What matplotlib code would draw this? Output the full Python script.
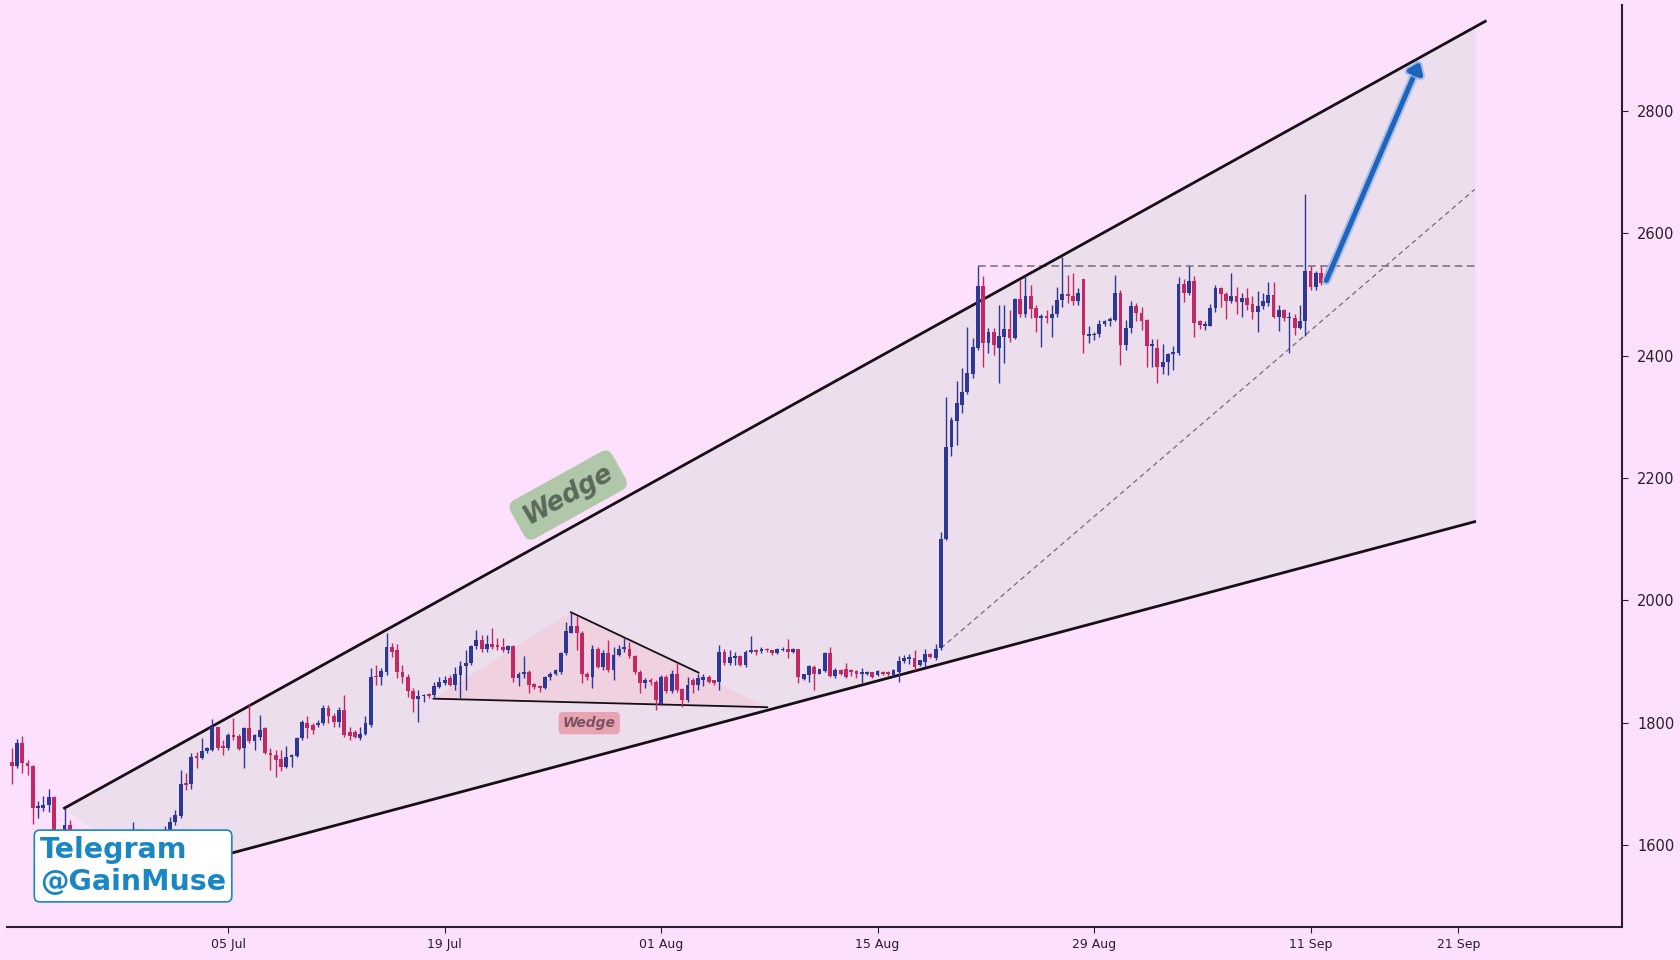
import numpy as np
import matplotlib
matplotlib.use("Agg")
import matplotlib.pyplot as plt
import matplotlib.patheffects as pe

# 8h candles (candles 9-31 sit behind the Telegram badge)
opens = [1735, 1729, 1766, 1733, 1729, 1660, 1660, 1665, 1678, 1608,
         1596, 1632, 1606, 1588, 1594, 1580, 1568, 1585, 1596, 1590,
         1576, 1592, 1606, 1612, 1622, 1604, 1598, 1582, 1594, 1608,
         1618, 1638, 1647, 1701, 1700, 1745, 1742, 1753, 1755, 1792,
         1761, 1758, 1780, 1778, 1758, 1791, 1769, 1777, 1791, 1750,
         1747, 1740, 1728, 1744, 1745, 1774, 1800, 1796, 1796, 1799,
         1823, 1811, 1801, 1820, 1785, 1785, 1774, 1782, 1796, 1876,
         1875, 1883, 1923, 1919, 1883, 1875, 1852, 1838, 1843, 1846,
         1845, 1858, 1865, 1872, 1861, 1878, 1892, 1897, 1925, 1935,
         1920, 1928, 1927, 1924, 1919, 1925, 1872, 1879, 1883, 1863,
         1860, 1856, 1875, 1880, 1883, 1913, 1947, 1958, 1946, 1880,
         1875, 1921, 1890, 1913, 1886, 1910, 1921, 1921, 1908, 1883,
         1864, 1870, 1867, 1831, 1875, 1851, 1880, 1855, 1837, 1869,
         1861, 1869, 1875, 1869, 1867, 1916, 1897, 1905, 1909, 1894,
         1916, 1918, 1917, 1921, 1918, 1914, 1919, 1920, 1916, 1920,
         1871, 1878, 1891, 1880, 1885, 1914, 1876, 1886, 1887, 1886,
         1885, 1879, 1879, 1882, 1878, 1883, 1883, 1878, 1883, 1900,
         1904, 1905, 1894, 1899, 1912, 1905, 1922, 2100, 2250, 2294,
         2320, 2340, 2370, 2412, 2514, 2421, 2438, 2412, 2431, 2443,
         2429, 2492, 2468, 2498, 2478, 2461, 2465, 2461, 2469, 2491,
         2501, 2498, 2489, 2525, 2433, 2434, 2435, 2452, 2456, 2459,
         2503, 2418, 2445, 2481, 2470, 2458, 2416, 2412, 2381, 2390,
         2403, 2404, 2517, 2503, 2523, 2456, 2449, 2449, 2478, 2510,
         2501, 2489, 2497, 2488, 2494, 2484, 2472, 2481, 2487, 2500,
         2464, 2475, 2461, 2461, 2445, 2456, 2538, 2512, 2535]
highs = [1758, 1773, 1778, 1738, 1731, 1672, 1679, 1692, 1680, 1618,
         1660, 1640, 1614, 1600, 1605, 1592, 1590, 1600, 1608, 1602,
         1596, 1612, 1620, 1638, 1626, 1614, 1606, 1600, 1612, 1630,
         1646, 1657, 1723, 1717, 1750, 1752, 1774, 1760, 1805, 1793,
         1771, 1783, 1807, 1782, 1793, 1831, 1782, 1812, 1792, 1758,
         1755, 1755, 1761, 1749, 1777, 1804, 1810, 1800, 1804, 1828,
         1829, 1815, 1826, 1845, 1793, 1788, 1793, 1810, 1889, 1894,
         1889, 1946, 1930, 1929, 1894, 1880, 1856, 1853, 1846, 1849,
         1867, 1875, 1876, 1878, 1891, 1900, 1919, 1927, 1951, 1943,
         1943, 1954, 1938, 1938, 1927, 1927, 1883, 1908, 1886, 1865,
         1861, 1876, 1883, 1887, 1916, 1965, 1981, 1974, 1949, 1883,
         1927, 1924, 1919, 1935, 1924, 1927, 1938, 1932, 1910, 1886,
         1872, 1872, 1870, 1878, 1878, 1886, 1897, 1857, 1875, 1872,
         1880, 1879, 1878, 1870, 1927, 1921, 1919, 1916, 1910, 1919,
         1942, 1921, 1924, 1922, 1919, 1922, 1923, 1936, 1922, 1921,
         1880, 1894, 1894, 1888, 1916, 1924, 1889, 1887, 1898, 1887,
         1886, 1889, 1884, 1883, 1886, 1884, 1884, 1887, 1908, 1911,
         1912, 1919, 1903, 1921, 1913, 1928, 2112, 2333, 2300, 2358,
         2380, 2447, 2429, 2547, 2530, 2445, 2445, 2483, 2483, 2475,
         2494, 2524, 2530, 2516, 2483, 2469, 2475, 2483, 2513, 2561,
         2532, 2535, 2510, 2525, 2448, 2438, 2459, 2459, 2463, 2532,
         2507, 2458, 2490, 2486, 2479, 2460, 2427, 2428, 2419, 2405,
         2416, 2529, 2525, 2546, 2531, 2459, 2456, 2485, 2516, 2513,
         2505, 2535, 2513, 2503, 2510, 2498, 2506, 2503, 2521, 2521,
         2483, 2476, 2472, 2468, 2483, 2665, 2546, 2538, 2546]
lows = [1700, 1725, 1717, 1714, 1634, 1643, 1656, 1654, 1598, 1585,
        1590, 1600, 1580, 1570, 1575, 1560, 1562, 1578, 1584, 1570,
        1568, 1586, 1596, 1605, 1598, 1590, 1575, 1570, 1588, 1600,
        1610, 1632, 1644, 1690, 1692, 1725, 1741, 1750, 1753, 1755,
        1747, 1755, 1771, 1755, 1726, 1767, 1755, 1772, 1748, 1722,
        1711, 1720, 1726, 1728, 1744, 1771, 1774, 1782, 1792, 1796,
        1799, 1793, 1793, 1777, 1771, 1774, 1771, 1780, 1793, 1861,
        1861, 1878, 1907, 1872, 1864, 1842, 1818, 1801, 1834, 1840,
        1842, 1856, 1862, 1859, 1853, 1840, 1853, 1894, 1921, 1916,
        1916, 1921, 1919, 1916, 1913, 1867, 1859, 1872, 1848, 1854,
        1850, 1854, 1870, 1878, 1880, 1910, 1946, 1919, 1864, 1870,
        1856, 1889, 1886, 1883, 1870, 1908, 1916, 1905, 1880, 1848,
        1856, 1862, 1820, 1829, 1848, 1848, 1850, 1826, 1834, 1848,
        1853, 1859, 1864, 1861, 1853, 1894, 1894, 1894, 1892, 1891,
        1913, 1910, 1913, 1915, 1911, 1912, 1917, 1905, 1914, 1864,
        1870, 1867, 1853, 1879, 1883, 1875, 1872, 1877, 1872, 1876,
        1872, 1864, 1878, 1873, 1876, 1878, 1876, 1875, 1867, 1897,
        1896, 1886, 1892, 1891, 1905, 1902, 1918, 2098, 2236, 2254,
        2306, 2338, 2363, 2410, 2382, 2404, 2401, 2355, 2388, 2423,
        2427, 2464, 2463, 2461, 2438, 2415, 2454, 2430, 2464, 2480,
        2486, 2483, 2483, 2404, 2420, 2426, 2431, 2449, 2449, 2456,
        2385, 2410, 2437, 2456, 2442, 2382, 2382, 2355, 2370, 2369,
        2377, 2401, 2488, 2499, 2430, 2444, 2442, 2448, 2472, 2480,
        2460, 2487, 2469, 2464, 2475, 2460, 2439, 2476, 2481, 2462,
        2441, 2456, 2404, 2434, 2443, 2432, 2507, 2508, 2516]
closes = [1729, 1766, 1733, 1729, 1660, 1663, 1665, 1678, 1608, 1596,
          1632, 1606, 1588, 1594, 1580, 1568, 1585, 1596, 1590, 1576,
          1592, 1606, 1612, 1622, 1604, 1598, 1582, 1594, 1608, 1618,
          1638, 1649, 1699, 1697, 1743, 1742, 1753, 1758, 1792, 1758,
          1758, 1780, 1777, 1756, 1791, 1769, 1779, 1788, 1750, 1747,
          1739, 1728, 1744, 1747, 1774, 1801, 1791, 1788, 1799, 1823,
          1810, 1801, 1820, 1780, 1778, 1777, 1782, 1799, 1875, 1874,
          1885, 1924, 1916, 1883, 1874, 1851, 1838, 1843, 1845, 1843,
          1859, 1866, 1870, 1861, 1879, 1892, 1897, 1925, 1935, 1921,
          1929, 1924, 1923, 1919, 1925, 1872, 1879, 1883, 1861, 1858,
          1856, 1874, 1880, 1886, 1913, 1949, 1958, 1946, 1880, 1874,
          1921, 1890, 1913, 1886, 1910, 1921, 1924, 1908, 1883, 1864,
          1870, 1867, 1836, 1875, 1851, 1880, 1853, 1837, 1861, 1861,
          1872, 1875, 1867, 1865, 1916, 1897, 1907, 1909, 1894, 1916,
          1918, 1916, 1921, 1918, 1913, 1920, 1921, 1916, 1920, 1875,
          1879, 1893, 1880, 1887, 1914, 1876, 1886, 1879, 1875, 1882,
          1880, 1882, 1882, 1875, 1885, 1880, 1879, 1886, 1900, 1905,
          1907, 1891, 1902, 1912, 1907, 1921, 2100, 2250, 2295, 2322,
          2341, 2371, 2414, 2514, 2421, 2438, 2418, 2432, 2443, 2429,
          2492, 2468, 2498, 2476, 2461, 2465, 2461, 2469, 2491, 2501,
          2497, 2489, 2503, 2434, 2436, 2435, 2452, 2457, 2460, 2503,
          2418, 2445, 2481, 2470, 2456, 2416, 2419, 2382, 2390, 2403,
          2406, 2517, 2503, 2523, 2454, 2450, 2452, 2478, 2510, 2501,
          2489, 2497, 2488, 2494, 2483, 2472, 2481, 2489, 2500, 2464,
          2475, 2461, 2464, 2445, 2456, 2538, 2512, 2535, 2519]

tick_pos = [41, 82, 123, 164, 205, 246, 274]
tick_labels = ["05 Jul", "19 Jul", "01 Aug", "15 Aug", "29 Aug", "11 Sep", "21 Sep"]

# drawn objects: (candle index, price)
wedge_upper = [(10, 1660), (279.1, 2947)]
wedge_lower = [(26.7, 1552), (277.1, 2128.5)]
small_wedge = [(79.9, 1839), (105.9, 1980.4), (143.1, 1825)]
small_wedge_top = [(105.9, 1980.4), (130.1, 1881.6)]
resistance = [(183, 2547), (277.1, 2547)]
support = [(176, 1921.5), (277.1, 2672)]
target_arrow = [(249, 2523), (266.7, 2880.6)]

BG = "#fde0fc"
UP = "#2d3796"
DOWN = "#c42864"

fig = plt.figure(figsize=(16.8, 9.6), dpi=100)
fig.patch.set_facecolor(BG)
ax = fig.add_axes([6.7 / 1680, 1 - 927 / 960, 1615.3 / 1680, 921.6 / 960])
ax.set_facecolor(BG)

o = np.array(opens, float)
h = np.array(highs, float)
l = np.array(lows, float)
c = np.array(closes, float)
x = np.arange(len(c))
up = c >= o
col = np.where(up, UP, DOWN)

# big rising wedge area
(ux0, uy0), (ux1, uy1) = wedge_upper
(lx0, ly0), (lx1, ly1) = wedge_lower
u_at = lambda xx: uy0 + (xx - ux0) * (uy1 - uy0) / (ux1 - ux0)
ax.fill([ux0, lx1, lx1, lx0], [uy0, u_at(lx1), ly1, ly0], color="#ecdeec", zorder=1)
ax.plot([ux0, ux1], [uy0, uy1], color="#161016", lw=2, zorder=4)
ax.plot([lx0, lx1], [ly0, ly1], color="#161016", lw=2, zorder=4)

# small wedge inside
sx, sy = zip(*small_wedge)
ax.fill(sx, sy, color="#f7b3c6", alpha=0.3, lw=0, zorder=1.5)
ax.plot([small_wedge[0][0], small_wedge[2][0]], [small_wedge[0][1], small_wedge[2][1]],
        color="#161016", lw=1.3, zorder=4)
tx, ty = zip(*small_wedge_top)
ax.plot(tx, ty, color="#161016", lw=1.3, zorder=4)

# dashed level + rising support
rx, ry = zip(*resistance)
ax.plot(rx, ry, color="#7a6a78", lw=1.1, ls=(0, (5, 3)), zorder=3)
spx, spy = zip(*support)
ax.plot(spx, spy, color="#7a6a78", lw=0.9, ls=(0, (4, 3)), zorder=3)

# candles
ax.vlines(x, l, h, colors=col, lw=1.0, zorder=5)
body = np.maximum(np.abs(c - o), 1.8)
ax.bar(x, body, bottom=np.minimum(o, c), width=0.72, color=col, lw=0, zorder=6)

# projected move
(ax0, ay0), (ax1, ay1) = target_arrow
ax.annotate("", xy=(ax1, ay1), xytext=(ax0, ay0), zorder=7,
            arrowprops=dict(arrowstyle="-|>,head_length=0.6,head_width=0.45",
                            color="#1f63bd", lw=3.6, shrinkA=0, shrinkB=0,
                            path_effects=[pe.Stroke(linewidth=6.5, foreground="#8db8ea", alpha=0.7),
                                          pe.Normal()]))

ax.text(105.4, 2172, "Wedge", rotation=29, rotation_mode="anchor", ha="center", va="center",
        fontsize=18.5, fontweight="bold", style="italic", color="#5a6a5a", zorder=8,
        bbox=dict(boxstyle="round,pad=0.35", fc="#a8c6a0", ec="none", alpha=0.9))
ax.text(109.4, 1799, "Wedge", ha="center", va="center", fontsize=10, fontweight="bold",
        style="italic", color="#7a5460", zorder=8,
        bbox=dict(boxstyle="round,pad=0.3", fc="#e89aa8", ec="none", alpha=0.85))

fig.text(40 / 1680, 1 - 866 / 960, "Telegram\n@GainMuse", ha="left", va="center",
         fontsize=20.5, fontweight="bold", color="#1a86c4", zorder=10,
         bbox=dict(boxstyle="round,pad=0.2", fc="white", ec="#1a86c4", lw=1.2))

ax.set_xlim(-0.95, 305)
ax.set_ylim(1465.5, 2973)
for s in ["top", "left"]:
    ax.spines[s].set_visible(False)
for s in ["bottom", "right"]:
    ax.spines[s].set_color("#2a1f2d")
    ax.spines[s].set_linewidth(1.5)
ax.yaxis.tick_right()
ax.set_yticks([1600, 1800, 2000, 2200, 2400, 2600, 2800])
ax.set_xticks(tick_pos)
ax.set_xticklabels(tick_labels)
ax.tick_params(axis="y", labelsize=10.5, colors="#2a1f2d", length=4, pad=7)
ax.tick_params(axis="x", labelsize=9, colors="#2a1f2d", length=4, pad=4)

fig.savefig("out.png", dpi=100, facecolor=BG)
